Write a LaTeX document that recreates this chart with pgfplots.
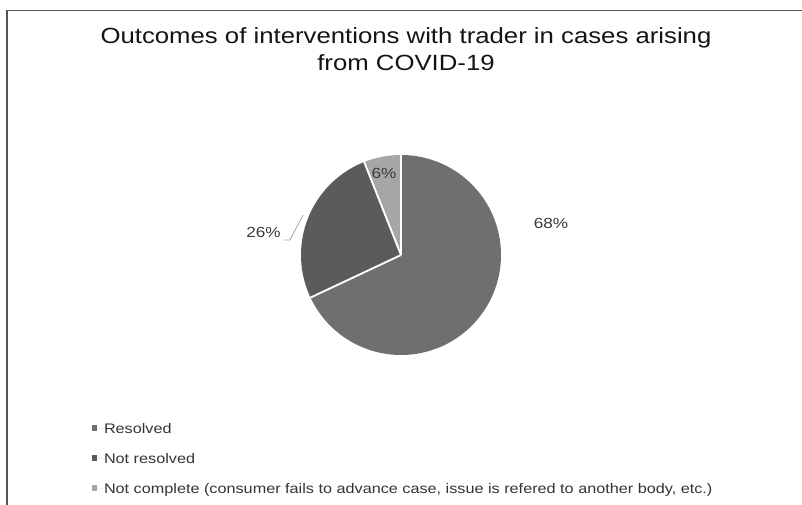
\documentclass[border=0pt]{standalone}
\usepackage{pgfplots}
\usepackage{pgfplotstable}
\pgfplotsset{compat=1.18}
\usepackage{fontspec}
\setmainfont{Liberation Sans}
\newfontfamily\wfont[FakeStretch=1.17]{Liberation Sans}
\definecolor{cRes}{HTML}{6F6F6F}
\definecolor{cNot}{HTML}{5B5B5B}
\definecolor{cInc}{HTML}{A6A6A6}
\definecolor{cTxt}{HTML}{333333}
\definecolor{cLab}{HTML}{3A3A3A}
\definecolor{cTitle}{HTML}{141414}
\definecolor{cBorder}{HTML}{555555}

\pgfplotstableread[col sep=semicolon]{
label;value
Resolved;68
Not resolved;26
Not complete (consumer fails to advance case, issue is refered to another body, etc.);6
}\piedata

\pgfplotstablegetelem{0}{value}\of\piedata \let\vA\pgfplotsretval
\pgfplotstablegetelem{1}{value}\of\piedata \let\vB\pgfplotsretval
\pgfplotstablegetelem{2}{value}\of\piedata \let\vC\pgfplotsretval
\pgfplotstablegetelem{0}{label}\of\piedata \let\lA\pgfplotsretval
\pgfplotstablegetelem{1}{label}\of\piedata \let\lB\pgfplotsretval
\pgfplotstablegetelem{2}{label}\of\piedata \let\lC\pgfplotsretval

\pgfmathsetmacro\aA{90}
\pgfmathsetmacro\aB{90-3.6*\vA}
\pgfmathsetmacro\aC{\aB-3.6*\vB}
\pgfmathsetmacro\aD{\aC-3.6*\vC}

\begin{document}
\begin{tikzpicture}[x=0.75pt,y=0.75pt]
\useasboundingbox (0,0) rectangle (802,504);
\begin{axis}[
  at={(0,0)}, anchor=origin,
  x=0.75pt, y=0.75pt,
  xmin=0, xmax=802, ymin=0, ymax=504,
  scale only axis, hide axis, clip=false,
  legend image code/.code={\fill[#1] (0,-1.9pt) rectangle (3.75pt,1.9pt); \path (0,0) -- (9pt,0);},
  legend style={at={(0.11471,0.18056)}, anchor=north west, draw=none, fill=none,
    inner sep=0pt, outer sep=0pt, row sep=0pt, column sep=0pt,
    font={\wfont\fontsize{10.4pt}{12pt}\selectfont}, text=cTxt,
    nodes={inner xsep=0pt, inner ysep=0pt, text height=7.6pt, text depth=0pt, minimum height=22.5pt},
    cells={anchor=west}},
]
\addlegendimage{fill=cRes, draw=none}
\addlegendentry{\lA}
\addlegendimage{fill=cNot, draw=none}
\addlegendentry{\lB}
\addlegendimage{fill=cInc, draw=none}
\addlegendentry{\lC}

% pie slices
\fill[cRes] (axis cs:401,249) -- ++(\aA:75pt) arc[start angle=\aA, end angle=\aB, radius=75pt] -- cycle;
\fill[cNot] (axis cs:401,249) -- ++(\aB:75pt) arc[start angle=\aB, end angle=\aC, radius=75pt] -- cycle;
\fill[cInc] (axis cs:401,249) -- ++(\aC:75pt) arc[start angle=\aC, end angle=\aD, radius=75pt] -- cycle;
\draw[white, line width=1.4pt, line join=round] (axis cs:401,249) -- ++(\aA:75pt);
\draw[white, line width=1.4pt, line join=round] (axis cs:401,249) -- ++(\aB:75pt);
\draw[white, line width=1.4pt, line join=round] (axis cs:401,249) -- ++(\aC:75pt);

% leader line and data labels
\draw[cInc, line width=0.6pt] (axis cs:283,264) -- (axis cs:290,264) -- (axis cs:303,289);
\node[text=cLab, font={\wfont\fontsize{11pt}{13pt}\selectfont}] at (axis cs:551,280.5) {\vA\%};
\node[text=cLab, font={\wfont\fontsize{11pt}{13pt}\selectfont}] at (axis cs:263.5,272) {\vB\%};
\node[text=cLab, font={\wfont\fontsize{11pt}{13pt}\selectfont}] at (axis cs:384,331) {\vC\%};

% title
\node[anchor=base, text=cTitle, font={\wfont\fontsize{16.5pt}{19pt}\selectfont}] at (axis cs:406,460) {Outcomes of interventions with trader in cases arising};
\node[anchor=base, text=cTitle, font={\wfont\fontsize{16.5pt}{19pt}\selectfont}] at (axis cs:406,433) {from COVID-19};
\end{axis}
\draw[cBorder, line width=1.1pt] (7,-2) -- (7,493.5) -- (806,493.5);
\end{tikzpicture}
\end{document}
